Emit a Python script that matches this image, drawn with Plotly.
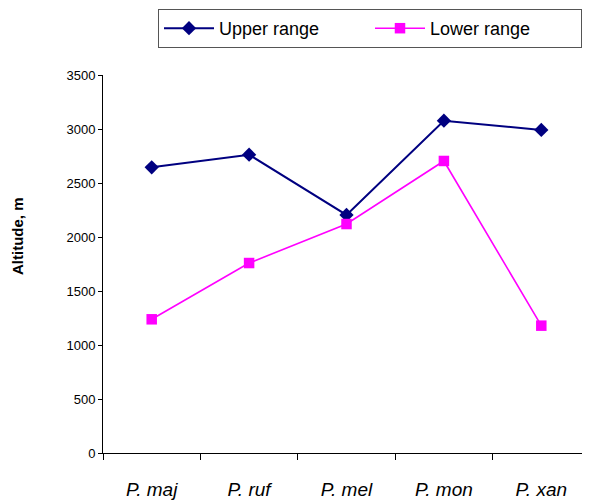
import plotly.graph_objects as go

categories = ["P. maj", "P. ruf", "P. mel", "P. mon", "P. xan"]
upper_range = [2645, 2762, 2204, 3077, 2991]
lower_range = [1238, 1759, 2120, 2704, 1179]
y_ticks = [0, 500, 1000, 1500, 2000, 2500, 3000, 3500]

W, H = 590, 501
OFF = 8  # page body margin offset
FONT = "Liberation Sans, Arial, sans-serif"

L, T, B, R = 103 - OFF, 75 - OFF, 453 - OFF, 590 - OFF

fig = go.Figure()
fig.add_trace(go.Scatter(
    x=categories, y=upper_range, name="Upper range", mode="lines+markers",
    line=dict(color="#000080", width=2),
    marker=dict(symbol="diamond", size=11, color="#000080"),
))
fig.add_trace(go.Scatter(
    x=categories, y=lower_range, name="Lower range", mode="lines+markers",
    line=dict(color="#FF00FF", width=1.6),
    marker=dict(symbol="square", size=10.5, color="#FF00FF"),
))

fig.update_layout(
    width=W, height=H,
    margin=dict(l=L, r=W - R, t=T, b=H - B, autoexpand=False),
    paper_bgcolor="white", plot_bgcolor="white",
    font=dict(family=FONT, color="black"),
    showlegend=True,
    legend=dict(
        orientation="h", xref="container", yref="container",
        x=(158 - OFF) / W, y=1 - (9 - OFF) / H, xanchor="left", yanchor="top",
        bordercolor="#555555", borderwidth=1,
        font=dict(size=18, family=FONT),
        entrywidth=146, itemwidth=50,
    ),
    xaxis=dict(
        type="category", range=[-0.5, 4.5],
        showline=True, linecolor="black", linewidth=1,
        ticks="outside", ticklen=6, tickcolor="black", tickson="boundaries",
        showgrid=False, zeroline=False,
        tickfont=dict(size=19, family=FONT, style="italic"),
        ticklabelstandoff=19,
    ),
    yaxis=dict(
        range=[0, 3500], tickvals=y_ticks,
        showline=True, linecolor="black", linewidth=1,
        ticks="outside", ticklen=4, tickcolor="black",
        showgrid=False, zeroline=False,
        tickfont=dict(size=13, family=FONT),
        ticklabelstandoff=0,
    ),
    annotations=[dict(
        text="<b>Altitude, m</b>", xref="paper", yref="paper",
        x=-(103 - 17) / (R - L), y=(453 - 236) / (453 - 75),
        xanchor="center", yanchor="middle", textangle=-90,
        showarrow=False, font=dict(size=15, family=FONT),
    )],
)

fig.write_html("out.html")
